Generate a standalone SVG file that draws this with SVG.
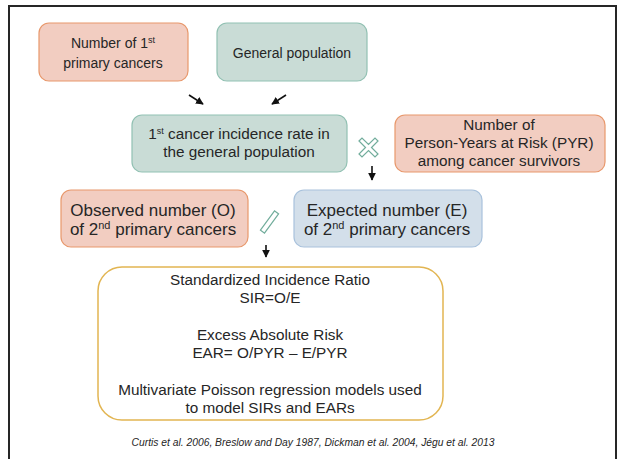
<svg xmlns="http://www.w3.org/2000/svg" width="618" height="459" viewBox="0 0 618 459">
<style>
text{font-family:"Liberation Sans",Arial,sans-serif;fill:#262626;font-size:14px;text-anchor:middle}
.sup{font-size:9px}
.t15{font-size:15.3px}
.t17{font-size:17px}
.t17 .sup{font-size:11px}
.red{fill:#f2cdc1;stroke:#e8986c;stroke-width:1.2}
.grn{fill:#c9dcd6;stroke:#92c1b3;stroke-width:1.2}
.blu{fill:#d3dfea;stroke:#a9c2dc;stroke-width:1.2}
.gold{fill:#fff;stroke:#e2b552;stroke-width:1.5}
.op{fill:none;stroke:#72ad9c;stroke-width:1.2}
.arr{stroke:#111;stroke-width:1.6;fill:none;marker-end:url(#ah)}
.cite{font-size:10.3px;font-style:italic}
</style>
<defs>
<marker id="ah" viewBox="0 0 10 10" refX="9" refY="5" markerWidth="4.8" markerHeight="4.8" orient="auto" markerUnits="strokeWidth">
<path d="M0,0 L10,5 L0,10 Z" fill="#111"/>
</marker>
</defs>
<rect width="618" height="459" fill="#fff"/>
<path d="M9,462 V6 H616 V462" fill="none" stroke="#262626" stroke-width="2"/>

<g id="n-first">
<rect class="red" x="39" y="23" width="149" height="58" rx="10"/>
<text x="113" y="48">Number of 1<tspan class="sup" dy="-5">st</tspan></text>
<text x="113" y="68">primary cancers</text>
</g>
<g id="n-genpop">
<rect class="grn" x="217" y="23" width="150" height="58" rx="10"/>
<text x="292" y="58">General population</text>
</g>
<g id="n-rate">
<rect class="grn" x="132" y="115" width="215" height="57" rx="10"/>
<text class="t15" x="239" y="139">1<tspan class="sup" dy="-5">st</tspan><tspan dy="5">  cancer incidence rate in</tspan></text>
<text class="t15" x="239" y="157">the general population</text>
</g>
<g id="n-pyr">
<rect class="red" x="395" y="115" width="210" height="57" rx="10"/>
<text class="t15" x="499" y="130">Number of</text>
<text class="t15" x="499" y="148">Person-Years at Risk (PYR)</text>
<text class="t15" x="499" y="166">among cancer survivors</text>
</g>
<g id="n-obs">
<rect class="red" x="61" y="190" width="187" height="57" rx="10"/>
<text class="t17" x="153" y="216">Observed number (O)</text>
<text class="t17" x="153" y="235">of 2<tspan class="sup" dy="-6">nd</tspan><tspan dy="6"> primary cancers</tspan></text>
</g>
<g id="n-exp">
<rect class="blu" x="294" y="190" width="188" height="57" rx="10"/>
<text class="t17" x="387" y="216">Expected number (E)</text>
<text class="t17" x="387" y="235">of 2<tspan class="sup" dy="-6">nd</tspan><tspan dy="6"> primary cancers</tspan></text>
</g>
<g id="n-sir">
<rect class="gold" x="98" y="267" width="345" height="153" rx="24"/>
<text class="t15" x="270" y="285">Standardized Incidence Ratio</text>
<text class="t15" x="270" y="303">SIR=O/E</text>
<text class="t15" x="270" y="340">Excess Absolute Risk</text>
<text class="t15" x="270" y="358">EAR= O/PYR – E/PYR</text>
<text class="t15" x="270" y="395">Multivariate Poisson regression models used</text>
<text class="t15" x="270" y="413">to model SIRs and EARs</text>
</g>
<g id="op-times">
<path class="op" d="M359,141 L362,138 L368.5,144.5 L375,138 L378,141 L371.5,147.5 L378,154 L375,157 L368.5,150.5 L362,157 L359,154 L365.5,147.5 Z"/>
</g>
<g id="op-divide">
<rect class="op" x="257.5" y="219.5" width="24" height="5" transform="rotate(-54 269.5 222)"/>
</g>
<g id="connectors">
<path class="arr" d="M189,95 L203,104"/>
<path class="arr" d="M286,95 L272,104"/>
<path class="arr" d="M372,166 L372,180"/>
<path class="arr" d="M266,245 L266,257"/>
</g>
<text class="cite" x="313" y="446">Curtis et al. 2006, Breslow and Day 1987, Dickman  et al. 2004, Jégu  et al. 2013</text>
</svg>
